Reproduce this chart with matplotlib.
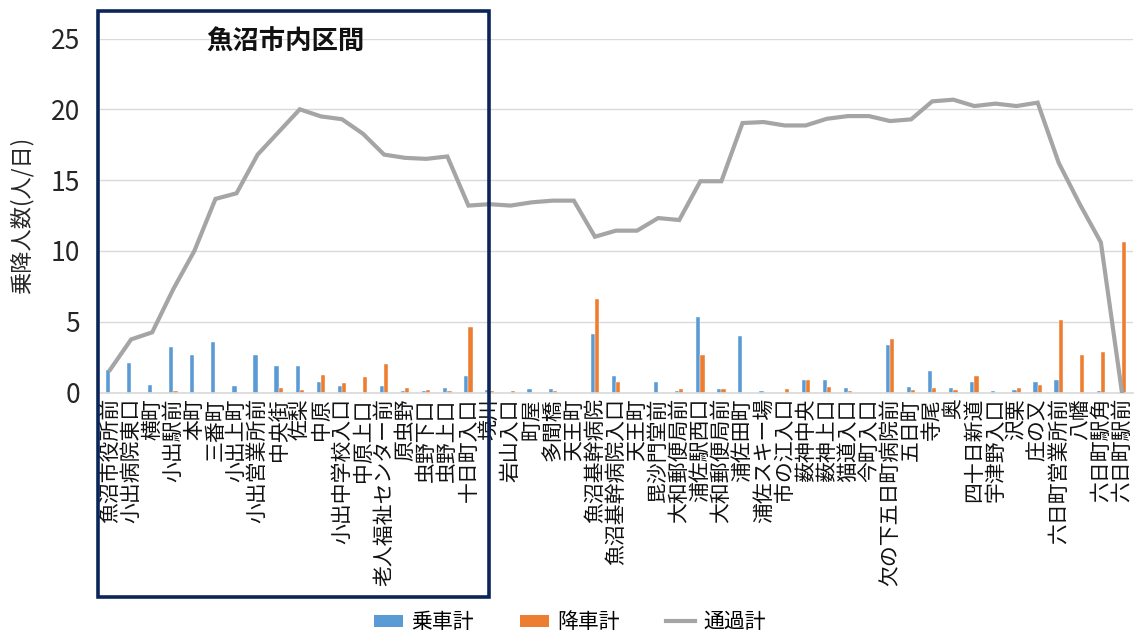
import numpy as np
import matplotlib
matplotlib.use("Agg")
import matplotlib.pyplot as plt
from matplotlib.patches import Patch, Rectangle
from matplotlib.lines import Line2D

plt.rcParams['font.family'] = ['Noto Sans CJK JP', 'DejaVu Sans']

# ─── DATA ──────────────────────────────────────────────────────────────────────
stops = ["魚沼市役所前", "小出病院東口", "横町", "小出駅前", "本町", "三番町",
         "小出上町", "小出営業所前", "中央街", "佐梨", "中原", "小出中学校入口",
         "中原上口", "老人福祉センター前", "原虫野", "虫野下口", "虫野上口",
         "十日町入口", "境川", "岩山入口", "町屋", "多聞橋", "天王町",
         "魚沼基幹病院", "魚沼基幹病院入口", "天王町", "毘沙門堂前",
         "大和郵便局前", "浦佐駅西口", "大和郵便局前", "浦佐田町", "浦佐スキー場",
         "市の江入口", "薮神中央", "薮神上口", "猫道入口", "今町入口",
         "欠の下五日町病院前", "五日町", "寺尾", "奥", "四十日新道", "宇津野入口",
         "沢栗", "庄の又", "六日町営業所前", "八幡", "六日町駅角", "六日町駅前"]

boarding = [1.6, 2.1, 0.52, 3.2, 2.65, 3.6, 0.43, 2.65, 1.9, 1.9, 0.76, 0.43,
            0, 0.43, 0.12, 0.1, 0.33, 1.16, 0.21, 0, 0.24, 0.24, 0, 4.1,
            1.16, 0, 0.73, 0.1, 5.35, 0.24, 3.99, 0.1, 0, 0.85, 0.85, 0.33,
            0, 3.35, 0.42, 1.49, 0.33, 0.73, 0.1, 0.21, 0.73, 0.85, 0, 0.1, 0]

alighting = [0, 0, 0, 0.12, 0, 0, 0, 0, 0.33, 0.21, 1.26, 0.66,
             1.07, 2.04, 0.33, 0.21, 0.1, 4.64, 0.1, 0.1, 0, 0.1, 0, 6.6,
             0.73, 0, 0, 0.24, 2.62, 0.24, 0, 0, 0.24, 0.87, 0.42, 0.1,
             0, 3.77, 0.21, 0.33, 0.21, 1.16, 0, 0.33, 0.54, 5.12, 2.62, 2.85, 10.6]

passing = [1.6, 3.75, 4.25, 7.3, 10.0, 13.67, 14.07, 16.8, 18.4, 20.0, 19.5, 19.3,
           18.27, 16.8, 16.57, 16.5, 16.67, 13.2, 13.3, 13.2, 13.43, 13.55, 13.55, 11.0,
           11.43, 11.43, 12.32, 12.18, 14.92, 14.92, 19.03, 19.1, 18.86, 18.86, 19.33, 19.52,
           19.52, 19.17, 19.29, 20.56, 20.68, 20.23, 20.4, 20.23, 20.47, 16.22, 13.3, 10.6, 0]

y_ticks = [0, 5, 10, 15, 20, 25]
# ───────────────────────────────────────────────────────────────────────────────

BLUE = "#5B9BD5"
ORANGE = "#ED7D31"
GRAY = "#A5A5A5"
NAVY = "#0B2559"

W, H = 1139, 635
fig = plt.figure(figsize=(W / 100, H / 100), dpi=100)
ax = fig.add_axes([99.5 / W, 1 - 392.5 / H, 1033 / W, 354 / H])

x = np.arange(len(stops))
bw = 0.2
ax.bar(x - bw / 2, boarding, bw, color=BLUE, edgecolor="white", linewidth=0.3, zorder=2)
ax.bar(x + bw / 2, alighting, bw, color=ORANGE, edgecolor="white", linewidth=0.3, zorder=2)
ax.plot(x, passing, color=GRAY, linewidth=3, zorder=3, solid_joinstyle="miter")

ax.set_xlim(-0.5, len(stops) - 0.5)
ax.set_ylim(0, 25)
ax.set_yticks(y_ticks)
ax.yaxis.grid(True, color="#D9D9D9", linewidth=1)
ax.set_axisbelow(True)
for s in ["left", "right", "top"]:
    ax.spines[s].set_visible(False)
ax.spines["bottom"].set_color("#D9D9D9")
ax.spines["bottom"].set_linewidth(1.2)

ax.set_xticks(x)
ax.set_xticklabels(stops, rotation=90, fontsize=15, color="#111111")
ax.tick_params(axis="x", length=0, pad=4)
ax.tick_params(axis="y", length=0, pad=14, labelsize=19, labelcolor="#262626")
ax.set_ylabel("乗降人数(人/日)", fontsize=16, color="#262626", labelpad=12)

# highlighted section box
fig.add_artist(Rectangle((98 / W, 1 - 597 / H), 391 / W, 586 / H,
                         transform=fig.transFigure, fill=False,
                         edgecolor=NAVY, linewidth=2.6, zorder=10))
fig.text(285 / W, 1 - 42 / H, "魚沼市内区間", ha="center", va="center",
         fontsize=19, fontweight="bold", color="#111111")

handles = [Patch(facecolor=BLUE, label="乗車計"),
           Patch(facecolor=ORANGE, label="降車計"),
           Line2D([0], [0], color=GRAY, linewidth=3, label="通過計")]
fig.legend(handles=handles, loc="center", bbox_to_anchor=(570 / W, 1 - 622 / H),
           ncol=3, frameon=False, fontsize=15, handlelength=1.4,
           handleheight=0.5, columnspacing=2.2, handletextpad=0.4)

fig.savefig("out.png", dpi=100)
